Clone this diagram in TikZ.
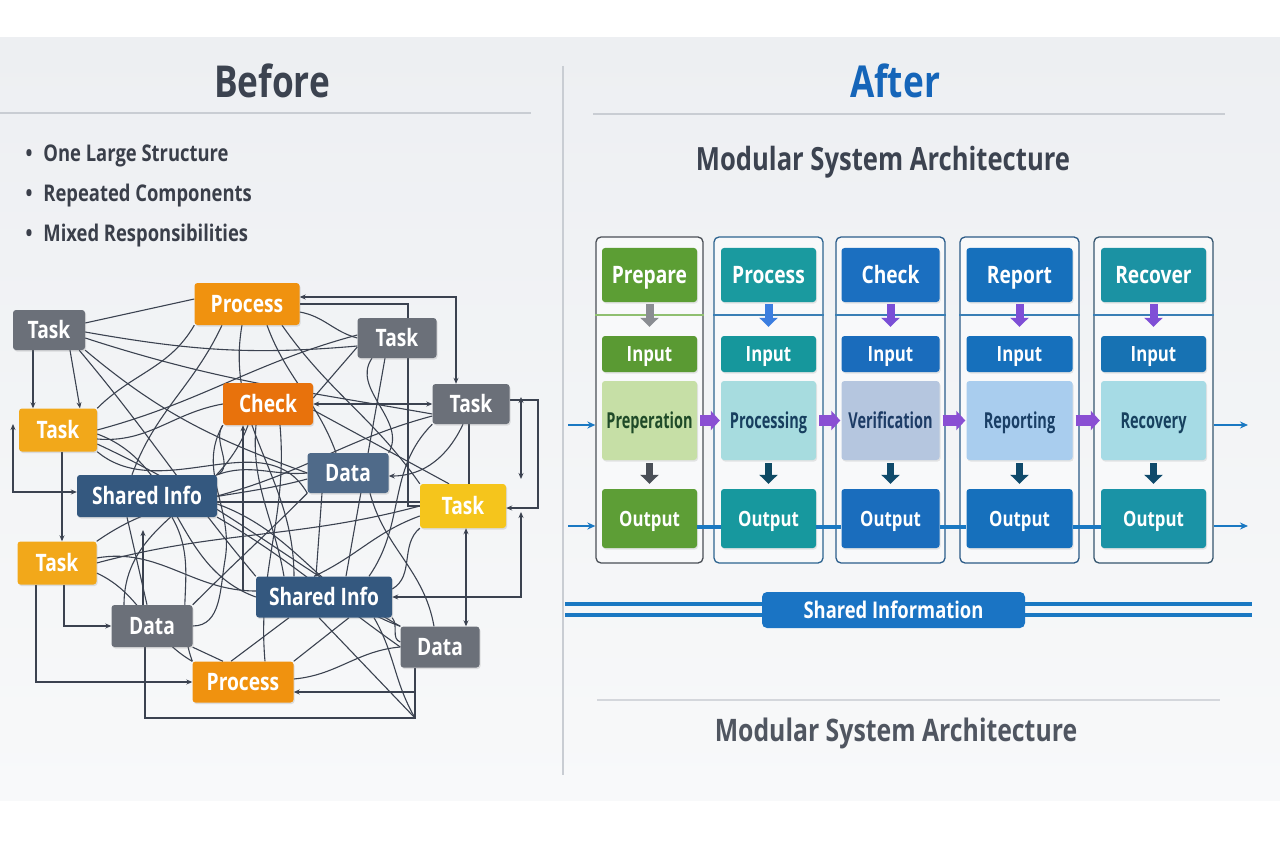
\documentclass[tikz,border=0pt]{standalone}
\usepackage{fontspec}
\setmainfont[FakeStretch=0.8]{Open Sans}
\newfontfamily\midfont[FakeStretch=0.66]{Open Sans}
\usetikzlibrary{arrows.meta,calc,shadows}
\pgfdeclarelayer{bg}
\pgfdeclarelayer{wires}
\pgfsetlayers{bg,wires,main}

\definecolor{panelA}{HTML}{EDEFF2}
\definecolor{panelB}{HTML}{F8F9FA}
\definecolor{rulec}{HTML}{C9CDD3}
\definecolor{titlec}{HTML}{3C4350}
\definecolor{afterc}{HTML}{1565B9}
\definecolor{bulletc}{HTML}{3A3F4A}
\definecolor{cwire}{HTML}{3B4250}
\definecolor{cgray}{HTML}{6B7079}
\definecolor{corange}{HTML}{F0920F}
\definecolor{cdorange}{HTML}{E8720C}
\definecolor{cyelo}{HTML}{F2A81A}
\definecolor{cyel}{HTML}{F5C51C}
\definecolor{cnavy}{HTML}{34587F}
\definecolor{cslate}{HTML}{4F6A89}
\definecolor{cblue}{HTML}{1A78C2}
\definecolor{cshared}{HTML}{1A74C4}
\definecolor{cpurple}{HTML}{8A4FD3}
% column colours
\definecolor{c1h}{HTML}{5C9E34}\definecolor{c1i}{HTML}{5A9A33}\definecolor{c1m}{HTML}{C6DFA6}
\definecolor{c1t}{HTML}{1F4A28}\definecolor{c1o}{HTML}{5D9E36}\definecolor{c1b}{HTML}{4A4F56}
\definecolor{c1l}{HTML}{8FBF70}\definecolor{c1a}{HTML}{8A8D92}\definecolor{c1d}{HTML}{4A4F57}
\definecolor{c2h}{HTML}{1A9A9F}\definecolor{c2i}{HTML}{16979C}\definecolor{c2m}{HTML}{A7DCDF}
\definecolor{c2t}{HTML}{173F5F}\definecolor{c2o}{HTML}{17989E}\definecolor{c2b}{HTML}{2D6490}
\definecolor{c2l}{HTML}{3A7FB5}\definecolor{c2a}{HTML}{3B7EE0}\definecolor{c2d}{HTML}{0E4A63}
\definecolor{c3h}{HTML}{1B6FC0}\definecolor{c3i}{HTML}{1A6CBC}\definecolor{c3m}{HTML}{B5C6DF}
\definecolor{c3t}{HTML}{1D3C66}\definecolor{c3o}{HTML}{1A6DBD}\definecolor{c3b}{HTML}{2B5D8B}
\definecolor{c3l}{HTML}{3A7FB5}\definecolor{c3a}{HTML}{7A4FD6}\definecolor{c3d}{HTML}{0F4A6B}
\definecolor{c4h}{HTML}{1670BC}\definecolor{c4i}{HTML}{1670BC}\definecolor{c4m}{HTML}{A9CDEE}
\definecolor{c4t}{HTML}{1A3F66}\definecolor{c4o}{HTML}{1670BC}\definecolor{c4b}{HTML}{2B5A86}
\definecolor{c4l}{HTML}{3A7FB5}\definecolor{c4a}{HTML}{7F4FD6}\definecolor{c4d}{HTML}{0F4A6B}
\definecolor{c5h}{HTML}{1B92A3}\definecolor{c5i}{HTML}{1772B3}\definecolor{c5m}{HTML}{A6DBE5}
\definecolor{c5t}{HTML}{17415F}\definecolor{c5o}{HTML}{1A93A6}\definecolor{c5b}{HTML}{35566F}
\definecolor{c5l}{HTML}{3A7FB5}\definecolor{c5a}{HTML}{7F4FD6}\definecolor{c5d}{HTML}{0F4A6B}

\tikzset{
  nbox/.style={rounded corners=3pt, text=white, inner sep=0pt,
    font=\bfseries\fontsize{24}{26}\selectfont, text height=17pt, text depth=0pt, minimum height=40pt,
    drop shadow={shadow xshift=1pt, shadow yshift=-1.5pt, opacity=0.22}},
  graybox/.style={nbox, fill=cgray},
  orangebox/.style={nbox, fill=corange},
  checkbox/.style={nbox, fill=cdorange},
  yobox/.style={nbox, fill=cyelo},
  yelbox/.style={nbox, fill=cyel},
  navybox/.style={nbox, fill=cnavy},
  slatebox/.style={nbox, fill=cslate},
  wire/.style={draw=cwire, line width=1.1pt},
  arr/.style={wire, -{Stealth[length=6pt,width=5pt]}},
  arrb/.style={wire, {Stealth[length=6pt,width=5pt]}-{Stealth[length=6pt,width=5pt]}},
  colbox/.style={rounded corners=5pt, line width=1.3pt, fill=panelB, minimum height=326pt, inner sep=0pt},
  rbox/.style={rounded corners=3pt, inner sep=0pt, text=white,
    drop shadow={shadow xshift=1pt, shadow yshift=-1.5pt, opacity=0.18}},
  hdrbox/.style={rbox, minimum height=54pt, font=\bfseries\fontsize{24}{26}\selectfont, text height=17pt, text depth=0pt},
  inbox/.style={rbox, minimum height=36pt, font=\bfseries\fontsize{21}{23}\selectfont, text height=15pt, text depth=0pt},
  midbox/.style={rbox, minimum height=79pt, font=\midfont\bfseries\fontsize{22}{24}\selectfont, text height=15.5pt, text depth=0pt},
  outbox/.style={rbox, minimum height=59pt, font=\bfseries\fontsize{21}{23}\selectfont, text height=15pt, text depth=0pt},
  tarr/.style={line width=8pt, -{Triangle[length=9pt,width=18pt]}},
  parr/.style={cpurple, line width=11pt, -{Triangle[length=9pt,width=19pt]}},
  barr/.style={cblue, line width=2pt, -{Stealth[length=8pt,width=7pt]}},
  bullettext/.style={anchor=west, font=\bfseries\fontsize{23}{25}\selectfont, text=bulletc},
}

\begin{document}
\begin{tikzpicture}[x=1pt,y=-1pt]
\useasboundingbox (0,0) rectangle (1280,853);
\begin{pgfonlayer}{bg}
  \fill[white] (0,0) rectangle (1280,853);
  \shade[top color=panelA, bottom color=panelB] (0,38) rectangle (1280,800);
  \draw[rulec, line width=1.5pt] (0,113) -- (531,113);
  \draw[rulec, line width=1.5pt] (593,114) -- (1225,114);
  \draw[rulec, line width=1.5pt] (563,66) -- (563,775);
  \draw[rulec!80, line width=1.2pt] (597,700) -- (1220,700);
\end{pgfonlayer}

% titles
\node[font=\bfseries\fontsize{44}{48}\selectfont, text=titlec] (before) at (272,81) {Before};
\node[font=\bfseries\fontsize{44}{48}\selectfont, text=afterc] (after) at (895,81) {After};
\node[bullettext] (b1) at (22,156) {\textbullet\hspace{11pt}One Large Structure};
\node[bullettext] (b2) at (22,196) {\textbullet\hspace{11pt}Repeated Components};
\node[bullettext] (b3) at (22,236) {\textbullet\hspace{11pt}Mixed Responsibilities};
\node[font=\bfseries\fontsize{32}{34}\selectfont, text=titlec] (msa1) at (883,162) {Modular System Architecture};
\node[font=\bfseries\fontsize{31}{33}\selectfont, text=titlec!90] (msa2) at (896,733) {Modular System Architecture};

% ---------- Before graph nodes ----------
\node[graybox, minimum width=72pt] (t1) at (49,330) {Task};
\node[orangebox, minimum width=105pt, minimum height=42pt] (p1) at (247,304) {Process};
\node[graybox, minimum width=79pt] (t2) at (397,338) {Task};
\node[yobox, minimum width=78pt, minimum height=43pt] (t3) at (58,430) {Task};
\node[checkbox, minimum width=90pt, minimum height=42pt] (ck) at (268,404) {Check};
\node[graybox, minimum width=77pt] (t4) at (471,404) {Task};
\node[navybox, minimum width=140pt, minimum height=42pt] (s1) at (147,496) {Shared Info};
\node[slatebox, minimum width=81pt] (d1) at (348,473) {Data};
\node[yelbox, minimum width=86pt, minimum height=44pt] (t5) at (463,506) {Task};
\node[yobox, minimum width=79pt, minimum height=43pt] (t6) at (57,563) {Task};
\node[navybox, minimum width=136pt, minimum height=41pt] (s2) at (324,597) {Shared Info};
\node[graybox, minimum width=81pt, minimum height=42pt] (d2) at (152,626) {Data};
\node[graybox, minimum width=79pt, minimum height=41pt] (d3) at (440,647) {Data};
\node[orangebox, minimum width=101pt, minimum height=41pt] (p2) at (243,682) {Process};

\coordinate (v1a) at (521,397);
\coordinate (v1b) at (521,479);
\coordinate (lq) at (13,424);
\coordinate (dq) at (143,530);
\coordinate (cq) at (243,590);

\begin{pgfonlayer}{wires}
% orthogonal connectors
\draw[arr] ([xshift=-16pt]t1.south) -- ([xshift=-16pt]t1.south |- t3.north);
\draw[arr] ([xshift=21pt]t1.south) -- ([xshift=22pt]t3.north);
\draw[arrb] ([yshift=7pt]p1.east) -- (456,297) -- ([xshift=-15pt]t4.north);
\draw[wire] (p1.east) -- (408,304) -- ([xshift=11pt]t2.north);
\draw[arrb] (ck.east) -- (t4.west);
\draw[arr] ([yshift=4pt]t4.east) -- (538,400) -- (538,508) -- ([yshift=-2pt]t5.east);
\draw[arrb] (v1a) -- (v1b);
\draw[arrb] (lq) -- (13,492) -- ([yshift=4pt]s1.west);
\draw[arr] ([xshift=4pt]t3.south) -- ([xshift=4pt]t3.south |- t6.north);
\draw[arr] ([xshift=7pt]t6.south) |- (d2.west);
\draw[arr] ([xshift=-21pt]t6.south) |- (p2.west);
\draw[wire] ([xshift=-7pt]d2.south) -- (145,718) -- (415,718) -- ([xshift=-25pt]d3.south);
\draw[arrb] ([xshift=26pt]d3.north) -- ([xshift=26pt]d3.north |- t5.south);
\draw[arrb] (s2.east) -- (521,597) -- (521,512);
\draw[arr] (415,692) -- ([yshift=-10pt]p2.east);
\draw[arr] ([xshift=-9pt]d2.north) -- (dq);
\draw[arr] (cq) -- ([xshift=-25pt]ck.south);
\draw[arr] ([xshift=-8pt]t4.south) to[out=-115,in=0] ([yshift=-3pt]d1.east);
\draw[wire] ([xshift=11pt]t2.south) |- (t5.west);
\draw[wire] ([xshift=-2pt]t4.south) -- ([xshift=6pt]t5.north);
% tangled wires
\draw[wire] ([yshift=7pt]t1.east) -- ([yshift=5pt]p1.west);
\draw[wire] ([yshift=-2pt]t1.east) to[out=-10,in=185] ([yshift=-8pt]t2.west);
\draw[wire] ([yshift=-8pt]t1.east) to[out=-18,in=170] ([yshift=-10pt]t4.west);
\draw[wire] (t1.south east) to[out=-40,in=160] (d1.west);
\draw[wire] ([xshift=-6pt]t1.south east) to[out=-50,in=130] (s2.north west);
\draw[wire] (p1.south west) to[out=-120,in=45] (t3.north east);
\draw[wire] ([xshift=-25pt]p1.south) to[out=-115,in=70] ([xshift=-15pt]s1.north);
\draw[wire] ([xshift=20pt]p1.south) to[out=-70,in=110] ([xshift=-12pt]d1.north);
\draw[wire] ([xshift=35pt]p1.south) to[out=-55,in=125] (t5.north west);
\draw[wire] ([yshift=-8pt]p1.east) to[out=-10,in=165] (t2.west);
\draw[wire] ([xshift=-5pt]p1.south) to[out=-100,in=90] ([xshift=-30pt]s2.north);
\draw[wire] ([yshift=3pt]t2.west) to[out=195,in=15] (t3.east);
\draw[wire] ([yshift=-9pt]t2.west) -- ([yshift=6pt]ck.east);
\draw[wire] ([xshift=-12pt]t2.south) to[out=-100,in=80] ([xshift=22pt]s2.north);
\draw[wire] ([xshift=-25pt]t2.south) to[out=-125,in=60] (d1.north east);
\draw[wire] (t4.south west) to[out=-135,in=55] ([xshift=45pt]s2.north);
\draw[wire] (ck.west) to[out=190,in=-5] ([yshift=-9pt]t3.east);
\draw[wire] (ck.south west) to[out=-125,in=25] (s1.north east);
\draw[wire] ([xshift=-12pt]ck.south) to[out=-95,in=100] ([xshift=-40pt]s2.north);
\draw[wire] ([xshift=12pt]ck.south) to[out=-85,in=95] ([xshift=22pt]p2.north);
\draw[wire] ([yshift=-6pt]ck.east) -- ([xshift=-14pt]t5.north);
\draw[wire] ([yshift=-4pt]t3.east) to[out=-20,in=160] (s2.west);
\draw[wire] ([yshift=-14pt]t3.east) to[out=-25,in=150] (d3.north west);
\draw[wire] (t3.south east) to[out=-40,in=120] (d1.south west);
\draw[wire] (s1.east) to[out=15,in=195] ([yshift=-12pt]t4.west);
\draw[wire] ([yshift=-6pt]s1.east) to[out=0,in=180] ([yshift=4pt]t5.west);
\draw[wire] (s1.south east) to[out=-30,in=145] (d3.west);
\draw[wire] ([xshift=25pt]s1.south) to[out=-60,in=110] (p2.north west);
\draw[wire] ([xshift=-20pt]s1.south) -- ([xshift=-5pt]d2.north);
\draw[wire] (d1.west) to[out=185,in=20] (s1.north east);
\draw[wire] ([xshift=-26pt]d1.south) -- ([xshift=-8pt]s2.north);
\draw[wire] ([xshift=22pt]d1.south) to[out=-75,in=100] ([xshift=-6pt]d3.north);
\draw[wire] (d1.south west) to[out=-135,in=45] (d2.north east);
\draw[wire] (t5.west) to[out=195,in=15] (t6.east);
\draw[wire] ([yshift=-10pt]t5.west) to[out=200,in=25] ([xshift=-10pt]s2.north);
\draw[wire] (t5.south west) to[out=-140,in=30] ([yshift=8pt]s2.east);
\draw[wire] ([yshift=5pt]t6.east) to[out=10,in=180] ([yshift=6pt]s2.west);
\draw[wire] ([yshift=-10pt]t6.east) to[out=-25,in=150] (p2.north west);
\draw[wire] (t6.north east) to[out=35,in=195] ([yshift=-6pt]d1.west);
\draw[wire] ([xshift=-35pt]s2.south) -- ([xshift=-12pt]p2.north);
\draw[wire] ([xshift=25pt]s2.south) -- (p2.north east);
\draw[wire] (s2.south east) to[out=-50,in=160] ([yshift=5pt]d3.west);
\draw[wire] ([xshift=-5pt]s2.south) -- (415,718);
\draw[wire] ([xshift=50pt]s2.south) to[out=-60,in=120] (415,718);
\draw[wire] (d2.east) to[out=0,in=-100] (225,560) to[out=80,in=-120] (ck.south west);
\draw[wire] (d2.south east) -- ([xshift=-20pt]p2.north);
\draw[wire] (d3.west) to[out=185,in=5] ([yshift=3pt]p2.east);
\draw[wire] (d3.north west) to[out=160,in=-20] ([yshift=-8pt]s1.east);
\draw[wire] ([xshift=-28pt]d2.north) to[out=90,in=-110] ([xshift=-20pt]ck.south);
\end{pgfonlayer}

% ---------- After: modular columns ----------
\coordinate (h315) at (0,315);
\foreach \i/\xc/\w/\ow/\hcol/\icol/\mcol/\mtxt/\ocol/\bcol/\hl/\ta/\tb/\lbl/\mlbl in {
 1/649.5/95/107/c1h/c1i/c1m/c1t/c1o/c1b/c1l/c1a/c1d/Prepare/Preperation,
 2/768.5/95/109/c2h/c2i/c2m/c2t/c2o/c2b/c2l/c2a/c2d/Process/Processing,
 3/890.5/98/109/c3h/c3i/c3m/c3t/c3o/c3b/c3l/c3a/c3d/Check/Verification,
 4/1019.5/106/119/c4h/c4i/c4m/c4t/c4o/c4b/c4l/c4a/c4d/Report/Reporting,
 5/1153.5/105/119/c5h/c5i/c5m/c5t/c5o/c5b/c5l/c5a/c5d/Recover/Recovery}{
  \node[colbox, draw=\bcol, minimum width=\ow pt] (col\i) at (\xc,400) {};
  \draw[\hl, line width=1.2pt] (col\i.west |- h315) -- (col\i.east |- h315);
  \node[hdrbox, fill=\hcol, minimum width=\w pt] (h\i) at (\xc,275) {\lbl};
  \node[inbox, fill=\icol, minimum width=\w pt] (in\i) at (\xc,354) {Input};
  \node[midbox, fill=\mcol, text=\mtxt, minimum width=\w pt] (m\i) at (\xc,420.5) {\mlbl};
  \node[outbox, fill=\ocol, minimum width=\w pt] (o\i) at (\xc,518.5) {Output};
  \draw[tarr, \ta] ([yshift=-2pt]h\i.south) -- ([yshift=9pt]in\i.north);
  \draw[tarr, \tb, line width=7pt] ([yshift=-3pt]m\i.south) -- ([yshift=5pt]o\i.north);
}
\foreach \a/\b in {1/2,2/3,3/4,4/5}{
  \draw[parr] ([xshift=3pt]m\a.east) -- ([xshift=-1pt]m\b.west);
  \draw[cblue, line width=4pt] ([yshift=-8.5pt]o\a.east) -- ([yshift=-8.5pt]o\b.west);
}
\coordinate (la1) at (568,425);
\coordinate (la2) at (568,526);
\coordinate (ra1) at (1248,425);
\coordinate (ra2) at (1248,526);
\draw[barr] (la1) -- (la1 -| col1.west);
\draw[barr] (la2) -- (la2 -| col1.west);
\draw[barr] (ra1 -| col5.east) -- (ra1);
\draw[barr] (ra2 -| col5.east) -- (ra2);

% shared information bar
\node[rounded corners=5pt, fill=cshared, text=white, minimum width=263pt, minimum height=36pt, inner sep=0pt,
      font=\bfseries\fontsize{23}{25}\selectfont, text height=16pt, text depth=0pt] (sh) at (893.5,610) {Shared Information};
\coordinate (sl1) at (565,604);
\coordinate (sl2) at (565,615);
\coordinate (sr1) at (1252,604);
\coordinate (sr2) at (1252,615);
\draw[cblue, line width=4pt] (sl1) -- (sl1 -| sh.west);
\draw[cblue, line width=4pt] (sl2) -- (sl2 -| sh.west);
\draw[cblue, line width=4pt] (sr1 -| sh.east) -- (sr1);
\draw[cblue, line width=4pt] (sr2 -| sh.east) -- (sr2);
\end{tikzpicture}
\end{document}
